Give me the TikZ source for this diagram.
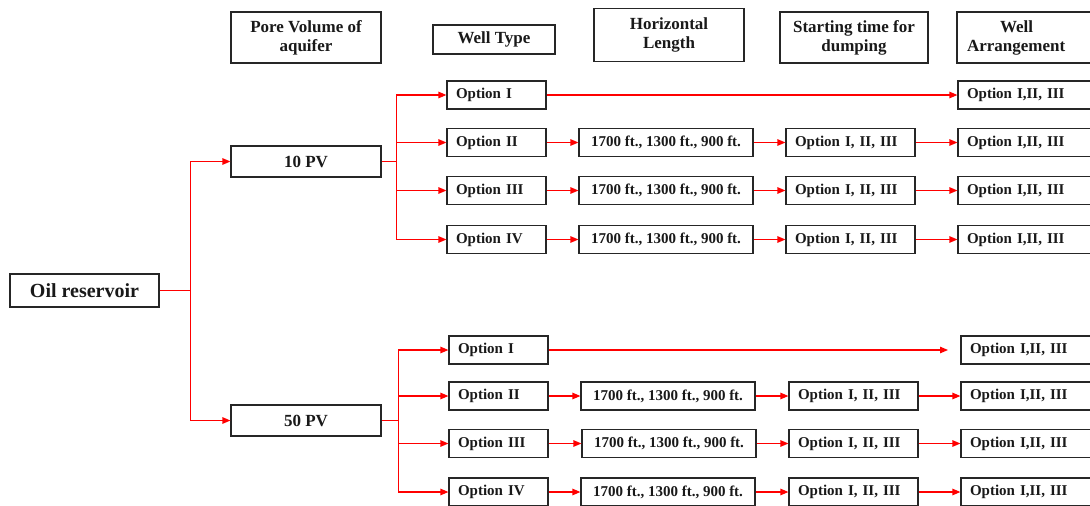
\documentclass[tikz,border=0pt]{standalone}
\usepackage{fontspec}
\setmainfont{Liberation Serif}
\usetikzlibrary{arrows.meta}
\tikzset{
  base/.style={draw=black!85, line width=1.2pt, rectangle, inner ysep=0pt, text=black!90},
  hdr/.style={base, align=center, font=\bfseries\fontsize{17}{19}\selectfont, inner xsep=2pt},
  opt/.style={base, minimum width=99pt, minimum height=28pt, text width=81pt, inner xsep=9pt, align=left, font=\bfseries\fontsize{15}{17}\selectfont},
  len/.style={base, minimum width=174pt, minimum height=28pt, inner xsep=0pt, align=center, font=\bfseries\fontsize{15}{17}\selectfont},
  stt/.style={base, minimum width=129pt, minimum height=28pt, text width=111pt, inner xsep=9pt, align=left, font=\bfseries\fontsize{15}{17}\selectfont},
  arr/.style={base, minimum width=140pt, minimum height=28pt, text width=122pt, inner xsep=9pt, align=left, font=\bfseries\fontsize{15}{17}\selectfont},
  pv/.style={base, minimum width=150pt, minimum height=31pt, font=\bfseries\fontsize{17}{19}\selectfont},
  link/.style={draw=red, line width=1.2pt},
  larr/.style={link, -{Triangle[length=8pt,width=6.5pt]}},
}
\begin{document}
\begin{tikzpicture}[x=1pt,y=-1pt]
\useasboundingbox (0,0) rectangle (1090,506);
\clip (0,0) rectangle (1090,506);
% headers
\node[hdr, minimum width=150pt, minimum height=51pt] (hpv) at (306,37.5) {Pore Volume of\\aquifer};
\node[hdr, minimum width=122pt, minimum height=29pt] (hwt) at (494,39.5) {Well Type};
\node[hdr, minimum width=150pt, minimum height=53pt] (hhl) at (669,35) {Horizontal\\Length};
\node[hdr, minimum width=148pt, minimum height=51pt] (hst) at (854,37.5) {Starting time for\\dumping};
\node[hdr, minimum width=150pt, minimum height=51pt, text width=130pt, inner xsep=10pt, align=left] (hwa) at (1032,37.5) {\hspace*{33pt}Well\\Arrangement};
% root
\node[base, minimum width=149pt, minimum height=33pt, font=\bfseries\fontsize{20}{22}\selectfont] (oil) at (84.5,290.5) {Oil reservoir};
\node[pv] (ten) at (306,161.5) {10 PV};
\node[pv] (fifty) at (306,420.5) {50 PV};
% top group
\node[opt] (a1) at (496.5,95) {Option I};
\node[opt] (a2) at (496.5,142.5) {Option II};
\node[opt] (a3) at (496.5,190.5) {Option III};
\node[opt] (a4) at (496.5,239.5) {Option IV};
\node[len] (la2) at (666,142.5) {1700 ft., 1300 ft., 900 ft.};
\node[len] (la3) at (666,190.5) {1700 ft., 1300 ft., 900 ft.};
\node[len] (la4) at (666,239.5) {1700 ft., 1300 ft., 900 ft.};
\node[stt] (sa2) at (850.5,142.5) {Option I, II, III};
\node[stt] (sa3) at (850.5,190.5) {Option I, II, III};
\node[stt] (sa4) at (850.5,239.5) {Option I, II, III};
\node[arr] (wa1) at (1028,95) {Option I,II, III};
\node[arr] (wa2) at (1028,142.5) {Option I,II, III};
\node[arr] (wa3) at (1028,190.5) {Option I,II, III};
\node[arr] (wa4) at (1028,239.5) {Option I,II, III};
% bottom group
\node[opt] (b1) at (498.5,350) {Option I};
\node[opt] (b2) at (498.5,396) {Option II};
\node[opt] (b3) at (498.5,443.5) {Option III};
\node[opt] (b4) at (498.5,492) {Option IV};
\node[len] (lb2) at (668,396) {1700 ft., 1300 ft., 900 ft.};
\node[len] (lb3) at (669,443.5) {1700 ft., 1300 ft., 900 ft.};
\node[len] (lb4) at (668,492) {1700 ft., 1300 ft., 900 ft.};
\node[stt] (sb2) at (853.5,396) {Option I, II, III};
\node[stt] (sb3) at (853.5,443.5) {Option I, II, III};
\node[stt] (sb4) at (853.5,492) {Option I, II, III};
\node[arr] (wb1) at (1031,350) {Option I,II, III};
\node[arr] (wb2) at (1031,396) {Option I,II, III};
\node[arr] (wb3) at (1031,443.5) {Option I,II, III};
\node[arr] (wb4) at (1031,492) {Option I,II, III};
\coordinate (eb1) at (948,350);
% connectors: root
\draw[link] (oil.east) -- ++(31,0) coordinate (j0);
\draw[larr] (j0) |- (ten.west);
\draw[larr] (j0) |- (fifty.west);
% top group
\draw[link] (ten.east) -- ++(15,0) coordinate (j1);
\draw[larr] (j1) |- (a1.west);
\draw[larr] (j1) |- (a2.west);
\draw[larr] (j1) |- (a3.west);
\draw[larr] (j1) |- (a4.west);
\draw[larr] (a1.east) -- (wa1.west);
\draw[larr] (a2.east) -- (la2.west);
\draw[larr] (a3.east) -- (la3.west);
\draw[larr] (a4.east) -- (la4.west);
\draw[larr] (la2.east) -- (sa2.west);
\draw[larr] (la3.east) -- (sa3.west);
\draw[larr] (la4.east) -- (sa4.west);
\draw[larr] (sa2.east) -- (wa2.west);
\draw[larr] (sa3.east) -- (wa3.west);
\draw[larr] (sa4.east) -- (wa4.west);
% bottom group
\draw[link] (fifty.east) -- ++(17,0) coordinate (j2);
\draw[larr] (j2) |- (b1.west);
\draw[larr] (j2) |- (b2.west);
\draw[larr] (j2) |- (b3.west);
\draw[larr] (j2) |- (b4.west);
\draw[larr] (b1.east) -- (eb1);
\draw[larr] (b2.east) -- (lb2.west);
\draw[larr] (b3.east) -- (lb3.west);
\draw[larr] (b4.east) -- (lb4.west);
\draw[larr] (lb2.east) -- (sb2.west);
\draw[larr] (lb3.east) -- (sb3.west);
\draw[larr] (lb4.east) -- (sb4.west);
\draw[larr] (sb2.east) -- (wb2.west);
\draw[larr] (sb3.east) -- (wb3.west);
\draw[larr] (sb4.east) -- (wb4.west);
\end{tikzpicture}
\end{document}
